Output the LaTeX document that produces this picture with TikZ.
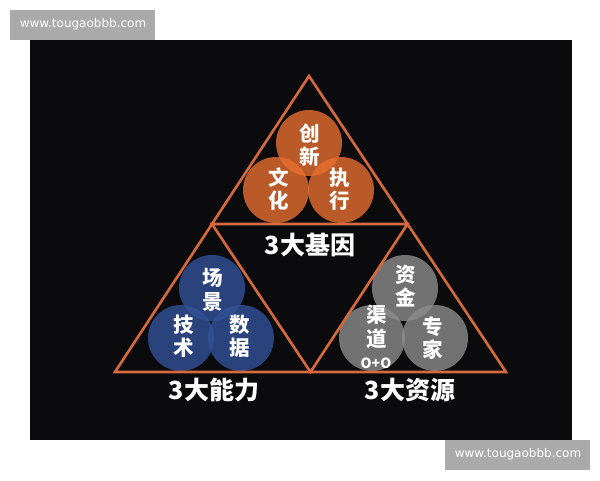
\documentclass[tikz,border=0pt]{standalone}
\usepackage{fontspec}
\newfontfamily\cjk{Noto Sans CJK SC}
\newfontfamily\marksans{DejaVu Sans}
\usepackage{tikz}
\usetikzlibrary{positioning, calc}

\definecolor{backdrop}{RGB}{11,11,13}
\definecolor{edgeorange}{RGB}{214,106,62}
\definecolor{geneorange}{RGB}{232,110,48}
\definecolor{skillblue}{RGB}{50,82,152}
\definecolor{fundgray}{RGB}{140,140,140}
\definecolor{markgray}{RGB}{170,170,170}

\begin{document}
\begin{tikzpicture}[x=1pt, y=-1pt,
    tri/.style={draw=edgeorange, line width=2.6pt, line join=miter},
    ball/.style={circle, minimum size=66pt, inner sep=0pt, fill opacity=0.8},
    word/.style={text=white, align=center, inner sep=0pt,
                 font=\cjk\bfseries\fontsize{20.5}{23.5}\selectfont},
    title/.style={text=white, inner sep=0pt,
                  font=\cjk\bfseries\fontsize{25}{28}\selectfont},
    marktext/.style={text=white, font=\marksans\fontsize{12}{14}\selectfont}]
                    \useasboundingbox (0,0) rectangle (600,480);
                    \fill[backdrop] (30,40) rectangle (572,440);
                    \fill[markgray] (10,10) rectangle (155,40);
                    \fill[markgray] (445,440) rectangle (590,470);
                    \node[marktext] (markup) at (83,24) {www.tougaobbb.com};
                    \node[marktext] (markdown) at (518,454) {www.tougaobbb.com};
                    \node[ball, fill=geneorange] (chuang) at (309,143) {};
                    \node[ball, fill=geneorange] (wen) at (276,190) {};
                    \node[ball, fill=geneorange] (zhi) at (341,190) {};
                    \node[ball, fill=skillblue] (chang) at (212,288) {};
                    \node[ball, fill=skillblue] (ji) at (181,338) {};
                    \node[ball, fill=skillblue] (shu) at (241,338) {};
                    \node[ball, fill=fundgray] (zi) at (405,288) {};
                    \node[ball, fill=fundgray] (qu) at (372,338) {};
                    \node[ball, fill=fundgray] (zhuan) at (435,338) {};
                    \coordinate (top) at (309,76);
                    \coordinate (bl) at (115,372);
                    \coordinate (br) at (506,372);
                    \coordinate (ml) at ($(top)!0.5!(bl)$);
                    \coordinate (mr) at ($(top)!0.5!(br)$);
                    \coordinate (mb) at ($(bl)!0.5!(br)$);
                    \draw[tri] (top) -- (br) -- (bl) -- cycle;
                    \draw[tri] (ml) -- (mr) -- (mb) -- cycle;
                    \node[word] (chuangtxt) at ([shift={(1,2)}]chuang) {创\\新};
                    \node[word] (wentxt) at ([shift={(3,-1)}]wen) {文\\化};
                    \node[word] (zhitxt) at ([shift={(-1,-1)}]zhi) {执\\行};
                    \node[word] (changtxt) at ([shift={(1,2)}]chang) {场\\景};
                    \node[word] (jitxt) at ([shift={(3,-2)}]ji) {技\\术};
                    \node[word] (shutxt) at ([shift={(-1,-2)}]shu) {数\\据};
                    \node[word] (zitxt) at ([shift={(1,-2)}]zi) {资\\金};
                    \node[word] (qutxt) at ([shift={(5,-11)}]qu) {渠\\道};
                    \node[text=white, inner sep=0pt, font=\cjk\bfseries\fontsize{14}{16}\selectfont] (ootxt) at (376,363) {O+O};
                    \node[word] (zhuantxt) at ([shift={(-2,0)}]zhuan) {专\\家};
                    \node[title] (gene) at (310,245) {3大基因};
                    \node[title] (skill) at (214,390) {3大能力};
                    \node[title] (fund) at (410,390) {3大资源};
                \end{tikzpicture}
\end{document}
